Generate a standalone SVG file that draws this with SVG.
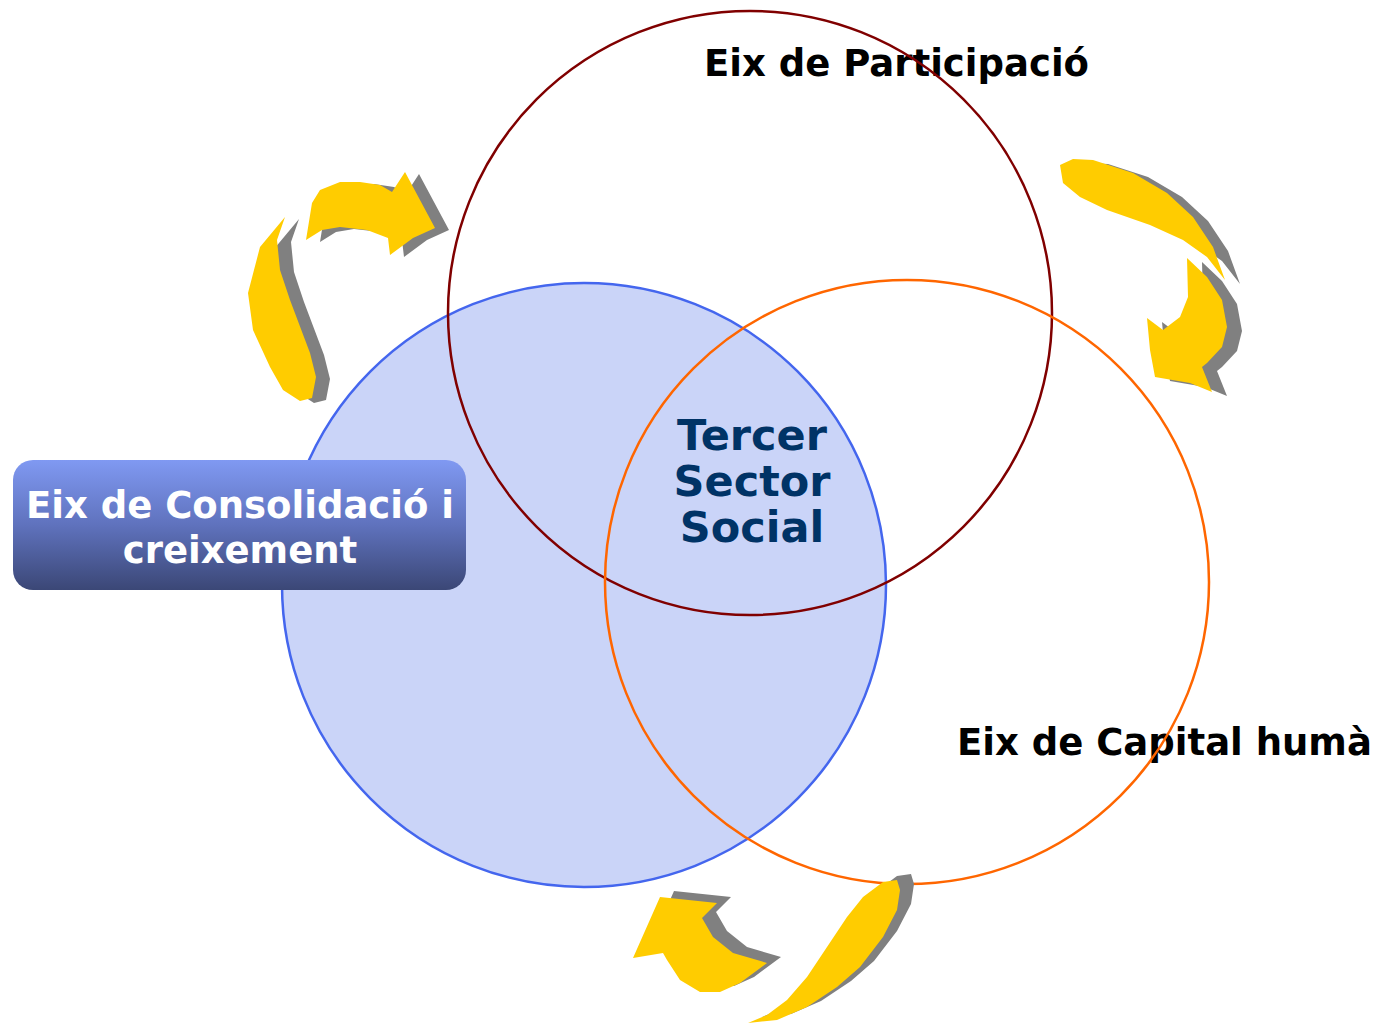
<svg xmlns="http://www.w3.org/2000/svg" width="1375" height="1024" viewBox="0 0 1375 1024">
<defs>
<linearGradient id="boxg" x1="0" y1="0" x2="0" y2="1">
<stop offset="0" stop-color="#8099f2"/>
<stop offset="0.5" stop-color="#5f72bd"/>
<stop offset="1" stop-color="#3b4776"/>
</linearGradient>
</defs>
<style>
.lbl{font-family:"DejaVu Sans","Verdana",sans-serif;font-weight:bold;font-size:37px;fill:#000}
.core{font-family:"DejaVu Sans","Verdana",sans-serif;font-weight:bold;font-size:43px;fill:#003366}
.box{font-family:"DejaVu Sans","Verdana",sans-serif;font-weight:bold;font-size:37px;fill:#fff}
.ar{fill:#ffcc00}
.sh{fill:#808080}
</style>
<rect width="1375" height="1024" fill="#fff"/>
<g id="circle-consolidacio">
<circle cx="584" cy="585" r="302" fill="#cad4f8" stroke="#4466ee" stroke-width="2.5"/>
</g>
<g id="core">
<text class="core" x="752" y="450" text-anchor="middle">Tercer</text>
<text class="core" x="752" y="496" text-anchor="middle">Sector</text>
<text class="core" x="752" y="542" text-anchor="middle">Social</text>
</g>
<g id="label-participacio"><text class="lbl" x="704" y="76">Eix de Participació</text></g>
<g id="label-capital"><text class="lbl" x="957" y="755">Eix de Capital humà</text></g>
<g id="circle-participacio">
<circle cx="750" cy="313" r="302" fill="none" stroke="#800000" stroke-width="2.5"/>
</g>
<g id="circle-capital">
<circle cx="907" cy="582" r="302" fill="none" stroke="#ff6600" stroke-width="2.5"/>
</g>
<g id="box-consolidacio">
<rect x="13" y="460" width="453" height="130" rx="20" ry="20" fill="url(#boxg)"/>
<text class="box" x="240" y="518" text-anchor="middle">Eix de Consolidació i</text>
<text class="box" x="240" y="563" text-anchor="middle">creixement</text>
</g>
<g id="connectors">
<g id="arrow-topleft">
<g transform="translate(14,2)" class="sh">
<path d="M285,217 L260,247 L248,293 L253,330 L270,367 L283,390 L300,401 L312,398 L316,377 L310,353 L290,300 L280,270 L277,240 Z"/>
<path d="M306,240 L312,203 L320,190 L340,182 L360,182 L380,185 L392,192 L405,172 L435,228 L413,238 L390,255 L388,238 L367,230 L340,227 L322,230 Z"/>
</g>
<g class="ar">
<path d="M285,217 L260,247 L248,293 L253,330 L270,367 L283,390 L300,401 L312,398 L316,377 L310,353 L290,300 L280,270 L277,240 Z"/>
<path d="M306,240 L312,203 L320,190 L340,182 L360,182 L380,185 L392,192 L405,172 L435,228 L413,238 L390,255 L388,238 L367,230 L340,227 L322,230 Z"/>
</g>
</g>
<g id="arrow-right">
<g transform="translate(15,4)" class="sh">
<path d="M1060,165 L1073,159 L1093,160 L1133,173 L1167,193 L1193,217 L1213,247 L1225,280 L1207,257 L1183,240 L1150,225 L1107,210 L1080,197 L1063,183 Z"/>
<path d="M1187,258 L1207,277 L1222,300 L1227,327 L1222,347 L1207,363 L1202,367 L1212,392 L1190,383 L1155,377 L1150,350 L1147,318 L1163,330 L1180,317 L1188,297 Z"/>
</g>
<g class="ar">
<path d="M1060,165 L1073,159 L1093,160 L1133,173 L1167,193 L1193,217 L1213,247 L1225,280 L1207,257 L1183,240 L1150,225 L1107,210 L1080,197 L1063,183 Z"/>
<path d="M1187,258 L1207,277 L1222,300 L1227,327 L1222,347 L1207,363 L1202,367 L1212,392 L1190,383 L1155,377 L1150,350 L1147,318 L1163,330 L1180,317 L1188,297 Z"/>
</g>
</g>
<g id="arrow-bottom">
<g transform="translate(14,-6)" class="sh">
<path d="M897,880 L883,882 L863,897 L847,917 L827,947 L807,977 L787,1000 L767,1015 L748,1023 L777,1020 L807,1007 L837,987 L860,967 L883,937 L897,910 L900,890 Z"/>
<path d="M633,958 L660,897 L717,903 L702,918 L713,937 L733,953 L767,963 L740,983 L720,992 L700,992 L680,980 L667,960 L663,953 Z"/>
</g>
<g class="ar">
<path d="M897,880 L883,882 L863,897 L847,917 L827,947 L807,977 L787,1000 L767,1015 L748,1023 L777,1020 L807,1007 L837,987 L860,967 L883,937 L897,910 L900,890 Z"/>
<path d="M633,958 L660,897 L717,903 L702,918 L713,937 L733,953 L767,963 L740,983 L720,992 L700,992 L680,980 L667,960 L663,953 Z"/>
</g>
</g>
</g>
</svg>
